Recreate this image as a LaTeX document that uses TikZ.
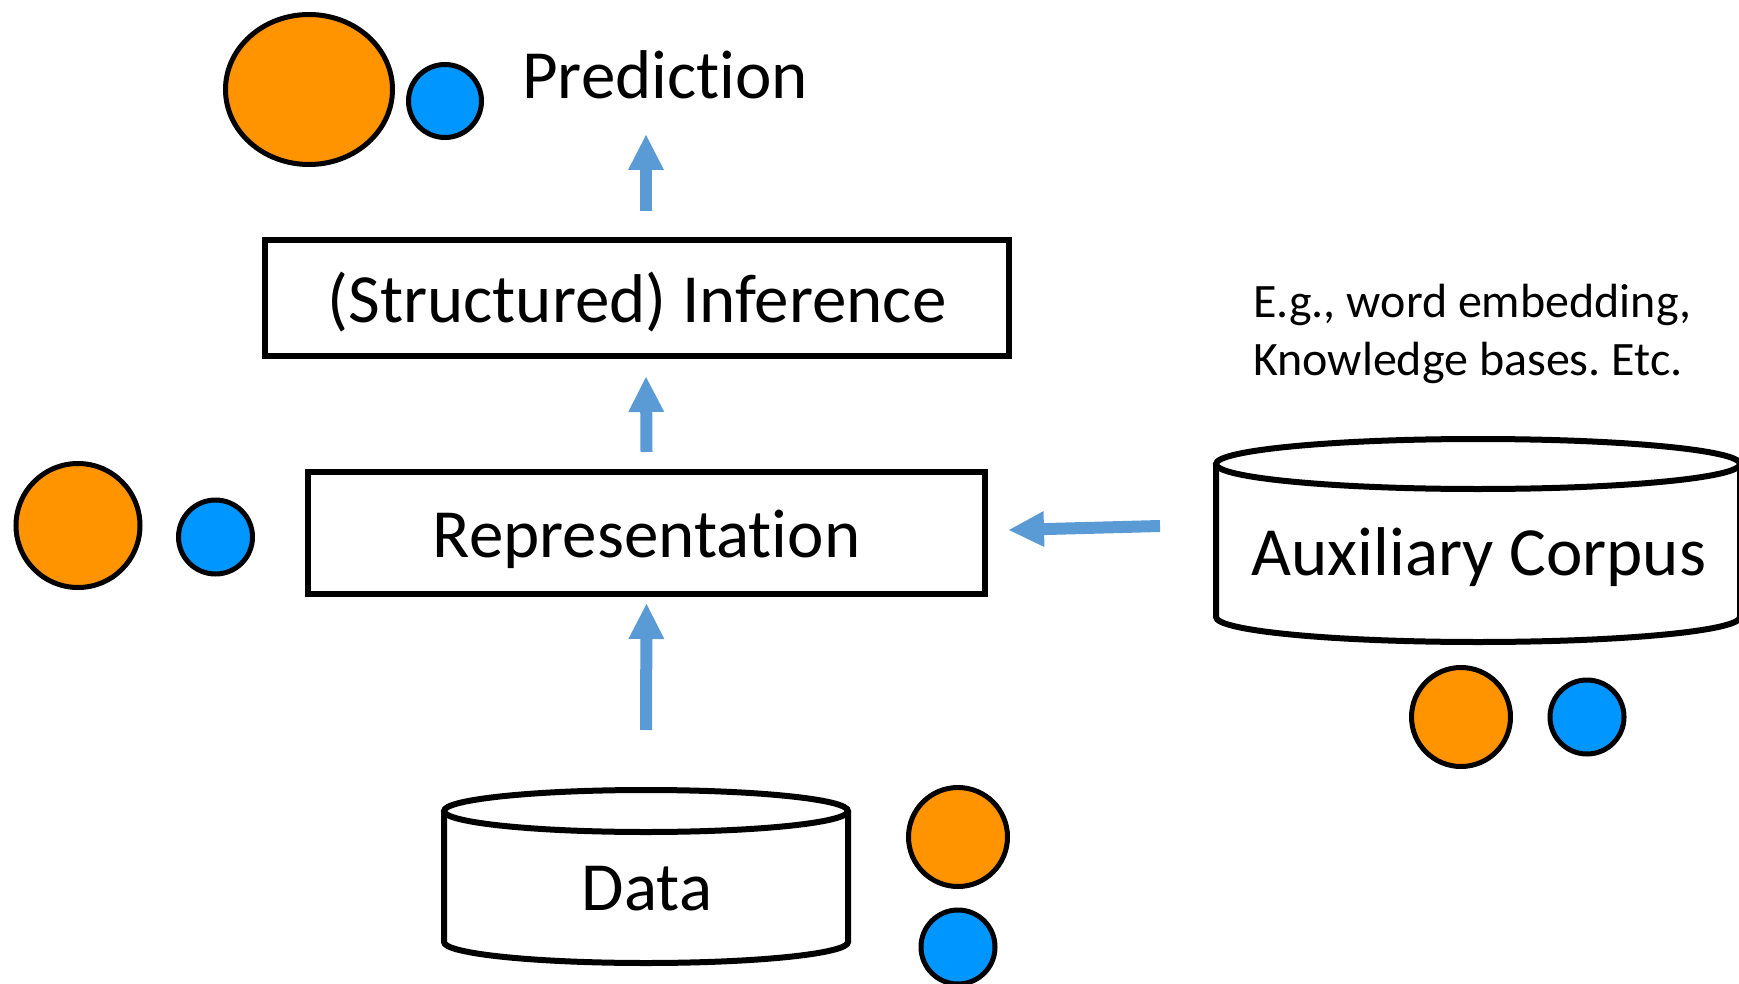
\documentclass[tikz,border=0pt]{standalone}
\usepackage{fontspec}
\setmainfont{Carlito}[Ligatures=NoCommon]
\usetikzlibrary{arrows.meta}
\definecolor{dotorange}{HTML}{FF9300}
\definecolor{dotblue}{HTML}{0096FF}
\definecolor{arrowblue}{HTML}{5B9BD5}
\newcommand\bigfont{\fontsize{69}{82}\selectfont}
\newcommand\smallfont{\fontsize{48}{58}\selectfont\frenchspacing}
\tikzset{
  boxnode/.style={draw=black, line width=6pt, inner sep=0pt, text height=48pt, text depth=0pt, font=\bigfont},
  cyl/.style={draw=black, line width=6pt, fill=white},
  labeltext/.style={inner sep=0pt, font=\bigfont},
  orangedot/.style={circle, draw=black, line width=5pt, fill=dotorange, inner sep=0pt},
  bluedot/.style={circle, draw=black, line width=5pt, fill=dotblue, inner sep=0pt},
  flow/.style={draw=arrowblue, line width=12pt, -{Triangle[width=36pt,length=35pt,line width=0pt]}}
}
\begin{document}
\begin{tikzpicture}[x=1pt,y=-1pt]
\useasboundingbox (0,0) rectangle (1739,984);

% boxes
\node[boxnode, minimum width=744pt, minimum height=116pt] (inf) at (637,298) {(Structured) Inference};
\node[boxnode, minimum width=677pt, minimum height=122pt] (rep) at (646.5,533) {Representation};

% prediction
\node[labeltext, anchor=base west] (pred) at (522,99) {Prediction};
\draw[black, line width=5pt, fill=dotorange] (309,89.5) ellipse [x radius=83.5, y radius=75];
\node[bluedot, minimum size=73pt] (pb) at (445,101) {};

% data cylinder
\draw[cyl] (444,811) -- (444,942) arc[start angle=180, end angle=0, x radius=202, y radius=21] -- (848,811);
\draw[cyl] (646,811) ellipse [x radius=202, y radius=21];
\node[labeltext, anchor=base] (data) at (647,910) {Data};
\coordinate (dtop) at (646,787);

% auxiliary corpus cylinder
\draw[cyl] (1216,464) -- (1216,617) arc[start angle=180, end angle=0, x radius=262, y radius=25] -- (1740,464);
\draw[cyl] (1478,464) ellipse [x radius=262, y radius=25];
\node[labeltext, anchor=base] (aux) at (1479,575) {Auxiliary Corpus};
\coordinate (auxleft) at (1160,526);

\node[inner sep=0pt, anchor=base west, align=left, font=\smallfont] (note) at (1253,375) {E.g., word embedding,\\Knowledge bases. Etc.};

% dots
\node[orangedot, minimum size=124pt] (lo) at (78,525.5) {};
\node[bluedot, minimum size=74pt] (lb) at (215.5,537) {};
\node[orangedot, minimum size=99pt] (dob) at (958,837) {};
\node[bluedot, minimum size=74pt] (dbb) at (958,947) {};
\node[orangedot, minimum size=99pt] (ao) at (1461,717) {};
\node[bluedot, minimum size=74pt] (ab) at (1587,717) {};

% arrows
\path (dtop |- inf.south) coordinate (infbot);
\path (dtop |- inf.north) coordinate (inftop);
\coordinate (ptip) at (646,135);
\draw[flow] ([yshift=57pt]dtop) -- ([yshift=-7pt]rep.south);
\draw[flow] ([yshift=17pt]rep.north) -- ([yshift=-18pt]infbot);
\draw[flow] ([yshift=26pt]inftop) -- (ptip);
\draw[flow] (auxleft) -- ([xshift=21pt,yshift=3pt]rep.east);
\end{tikzpicture}
\end{document}
